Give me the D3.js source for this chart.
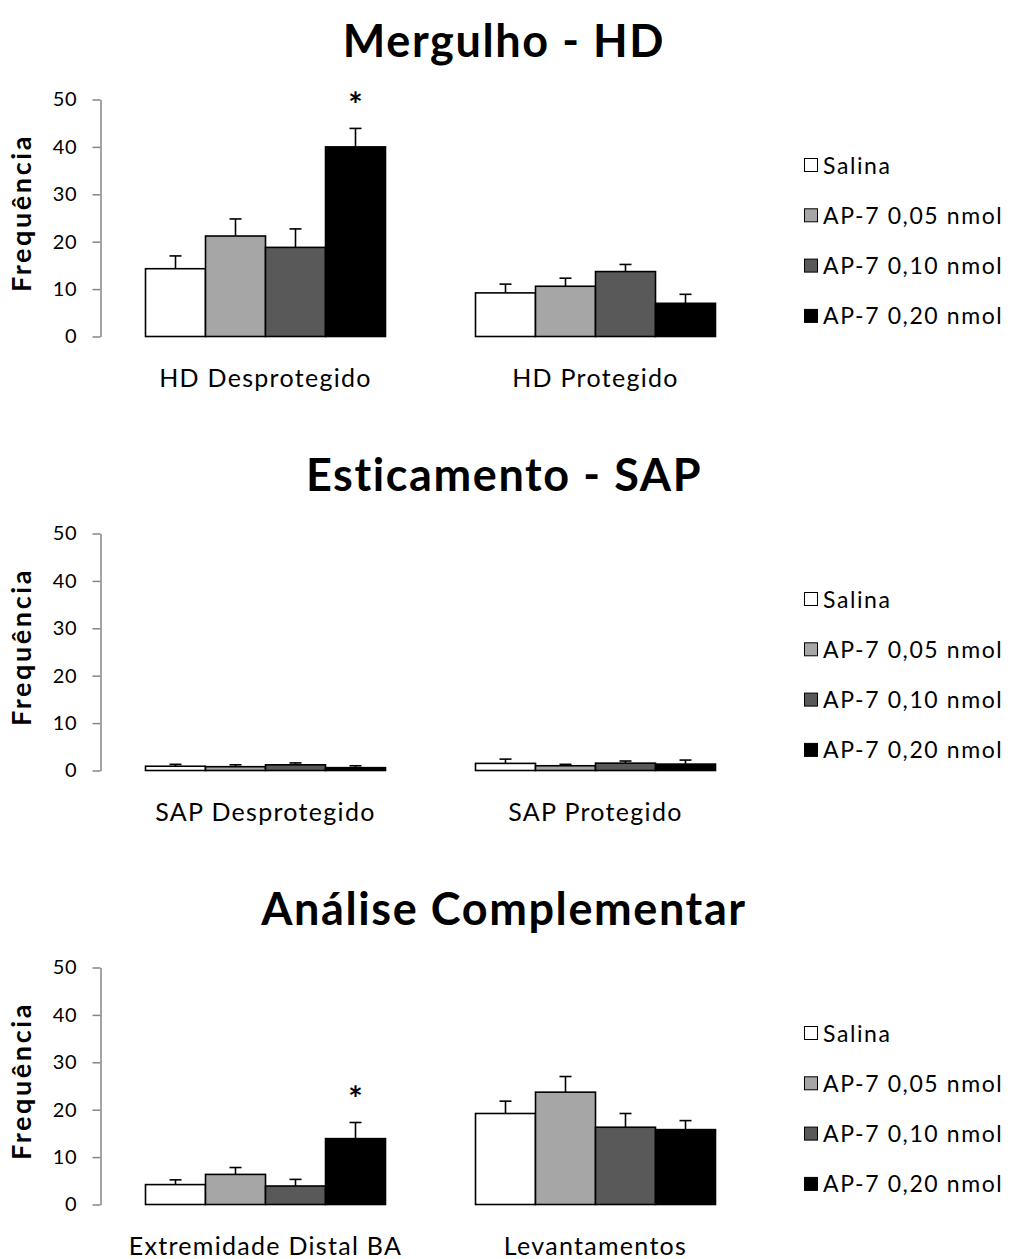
<!DOCTYPE html>
<html>
<head>
<meta charset="utf-8">
<script src="https://cdn.jsdelivr.net/npm/d3@7"></script>
<style>
  html, body { margin: 0; padding: 0; background: #fff; }
  svg { display: block; }
  text { font-family: Lato, "Noto Sans", sans-serif; fill: #000; }
</style>
</head>
<body>
<svg id="chart" width="1012" height="1259"></svg>
<script>
// Tratamentos (séries) e cores de preenchimento
const grupos = ["Salina", "AP-7 0,05 nmol", "AP-7 0,10 nmol", "AP-7 0,20 nmol"];
const cores = ["#ffffff", "#a6a6a6", "#595959", "#000000"];
const yTicks = [0, 10, 20, 30, 40, 50];

// Mergulho - HD
const mergulhoCategorias = ["HD Desprotegido", "HD Protegido"];
const mergulhoMedia = [[14.3, 21.2, 18.8, 40.0], [9.2, 10.6, 13.7, 7.0]];
const mergulhoEpm = [[2.7, 3.6, 3.9, 3.9], [1.85, 1.7, 1.5, 1.9]];
const mergulhoAsterisco = [[0, 3]];

// Esticamento - SAP
const esticamentoCategorias = ["SAP Desprotegido", "SAP Protegido"];
const esticamentoMedia = [[0.9, 0.8, 1.2, 0.6], [1.5, 1.0, 1.55, 1.35]];
const esticamentoEpm = [[0.4, 0.4, 0.4, 0.4], [0.9, 0.3, 0.45, 0.85]];
const esticamentoAsterisco = [];

// Análise Complementar
const complementarCategorias = ["Extremidade Distal BA", "Levantamentos"];
const complementarMedia = [[4.2, 6.35, 3.9, 13.9], [19.2, 23.7, 16.3, 15.8]];
const complementarEpm = [[1.0, 1.45, 1.4, 3.4], [2.6, 3.3, 2.9, 1.9]];
const complementarAsterisco = [[0, 3]];

const paineis = [
  { titulo: "Mergulho - HD", categorias: mergulhoCategorias, media: mergulhoMedia, epm: mergulhoEpm, asteriscos: mergulhoAsterisco },
  { titulo: "Esticamento - SAP", categorias: esticamentoCategorias, media: esticamentoMedia, epm: esticamentoEpm, asteriscos: esticamentoAsterisco },
  { titulo: "Análise Complementar", categorias: complementarCategorias, media: complementarMedia, epm: complementarEpm, asteriscos: complementarAsterisco }
];

const svg = d3.select("#chart");
const passoPainel = 434;
const plotTop = 99.5, plotBottom = 336.5;
const plotLeft = 100.5, plotRight = 760.5;

paineis.forEach((p, i) => {
  const g = svg.append("g").attr("transform", `translate(0,${i * passoPainel})`);

  const y = d3.scaleLinear().domain([0, 50]).range([plotBottom, plotTop]);
  const x0 = d3.scaleBand().domain(p.categorias).range([plotLeft, plotRight]);
  const x1 = d3.scaleBand().domain(grupos).range([0, x0.bandwidth()]).paddingOuter(0.75);

  // Título do painel
  g.append("text")
    .attr("x", 504).attr("y", 57)
    .attr("text-anchor", "middle")
    .style("font-size", "45px").style("font-weight", "bold")
    .style("letter-spacing", "1.6px")
    .text(p.titulo);

  // Eixo Y
  const eixo = g.append("g")
    .attr("transform", `translate(${plotLeft},0)`)
    .call(d3.axisLeft(y).tickValues(yTicks).tickSize(8).tickSizeOuter(0).tickPadding(15));
  eixo.select(".domain").attr("stroke", "#868686").attr("stroke-width", 1.5);
  eixo.selectAll(".tick line").attr("stroke", "#868686").attr("stroke-width", 1.5);
  eixo.selectAll(".tick text")
    .style("font-family", "Lato, sans-serif").style("font-size", "20px")
    .style("letter-spacing", "0.8px").attr("fill", "#000");

  // Título do eixo Y
  g.append("text")
    .attr("transform", `translate(31,${(plotTop + plotBottom) / 2 - 5}) rotate(-90)`)
    .attr("text-anchor", "middle")
    .style("font-size", "27px").style("font-weight", "bold")
    .style("letter-spacing", "2.6px")
    .text("Frequência");

  // Barras
  const dados = [];
  p.categorias.forEach((c, ci) => grupos.forEach((s, si) => {
    dados.push({ c, s, si, v: p.media[ci][si], e: p.epm[ci][si] });
  }));

  const barras = g.append("g");
  barras.selectAll("rect").data(dados).join("rect")
    .attr("x", d => x0(d.c) + x1(d.s))
    .attr("y", d => y(d.v))
    .attr("width", x1.bandwidth())
    .attr("height", d => y(0) - y(d.v))
    .attr("fill", d => cores[d.si])
    .attr("stroke", "#000").attr("stroke-width", 1.6);

  // Barras de erro (EPM, só para cima)
  const erro = g.append("g").attr("stroke", "#000").attr("stroke-width", 1.6);
  erro.selectAll("line.v").data(dados).join("line").attr("class", "v")
    .attr("x1", d => x0(d.c) + x1(d.s) + x1.bandwidth() / 2)
    .attr("x2", d => x0(d.c) + x1(d.s) + x1.bandwidth() / 2)
    .attr("y1", d => y(d.v)).attr("y2", d => y(d.v + d.e));
  erro.selectAll("line.h").data(dados).join("line").attr("class", "h")
    .attr("x1", d => x0(d.c) + x1(d.s) + x1.bandwidth() / 2 - 6)
    .attr("x2", d => x0(d.c) + x1(d.s) + x1.bandwidth() / 2 + 6)
    .attr("y1", d => y(d.v + d.e)).attr("y2", d => y(d.v + d.e));

  // Asteriscos de significância
  g.selectAll("text.ast").data(p.asteriscos).join("text").attr("class", "ast")
    .attr("x", d => x0(p.categorias[d[0]]) + x1(grupos[d[1]]) + x1.bandwidth() / 2)
    .attr("y", d => y(p.media[d[0]][d[1]] + p.epm[d[0]][d[1]]) - 11)
    .attr("text-anchor", "middle")
    .style("font-size", "34px").style("font-weight", "bold")
    .text("*");

  // Rótulos das categorias
  g.selectAll("text.cat").data(p.categorias).join("text").attr("class", "cat")
    .attr("x", d => x0(d) + x0.bandwidth() / 2)
    .attr("y", 387)
    .attr("text-anchor", "middle")
    .style("font-size", "25px")
    .style("letter-spacing", "1.3px")
    .text(d => d);

  // Legenda
  const leg = g.append("g").selectAll("g").data(grupos).join("g")
    .attr("transform", (d, k) => `translate(804,${165 + k * 50.3})`);
  leg.append("rect")
    .attr("x", 0.5).attr("y", -6.5).attr("width", 13).attr("height", 13)
    .attr("fill", (d, k) => cores[k]).attr("stroke", "#000").attr("stroke-width", 1);
  leg.append("text")
    .attr("x", 19).attr("y", 8.5)
    .style("font-size", "23px")
    .style("letter-spacing", "1.6px")
    .text(d => d);
});
</script>
</body>
</html>
